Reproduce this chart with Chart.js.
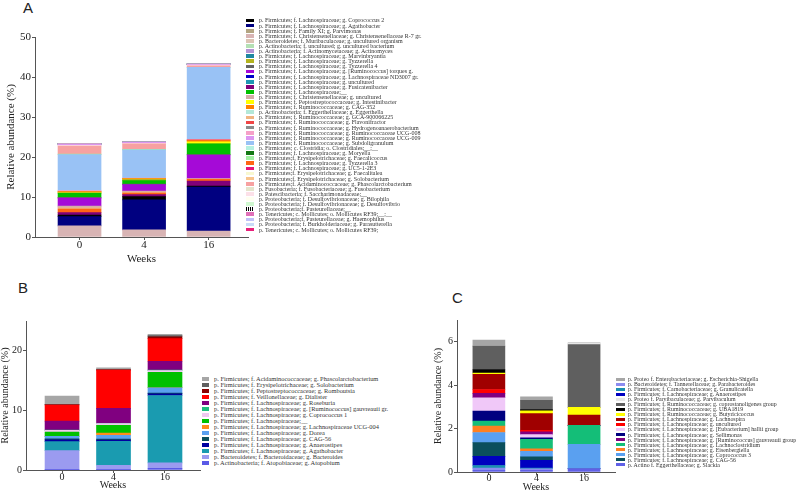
<!DOCTYPE html>
<html>
<head>
<meta charset="utf-8">
<script src="https://cdn.jsdelivr.net/npm/chart.js@4.4.1/dist/chart.umd.min.js"></script>
<style>
body { margin: 0; background: #fff; width: 800px; height: 491px; position: relative; overflow: hidden; }
canvas { position: absolute; }
.letter { position: absolute; font-family: "Liberation Sans", Arial, sans-serif; font-size: 15px; line-height: 15px; color: #222; }
.lg { position: absolute; left: 0; top: 0; }
.lg div { position: absolute; }
.lg span { position: absolute; white-space: nowrap; font-family: "Liberation Serif", serif; color: #333; }
</style>
</head>
<body>
<div class="letter" style="left:23px;top:0px">A</div>
<div class="letter" style="left:18px;top:280px">B</div>
<div class="letter" style="left:452px;top:290px">C</div>
<canvas id="chart-a" width="250" height="265" style="left:0;top:0"></canvas>
<canvas id="chart-b" width="202" height="200" style="left:0;top:290px"></canvas>
<canvas id="chart-c" width="197" height="202" style="left:420px;top:290px"></canvas>
<div class="lg" id="legend-a"></div>
<div class="lg" id="legend-b"></div>
<div class="lg" id="legend-c"></div>
<script>
var weeks = ['0', '4', '16'];

// panel A (legend order)
var taxaA = [
    'p. Firmicutes; f. Lachnospiraceae; g. Coprococcus 2',
    'p. Firmicutes; f. Lachnospiraceae; g. Agathobacter',
    'p. Firmicutes; f. Family XI; g. Parvimonas',
    'p. Firmicutes; f. Christensenellaceae; g. Christensenellaceae R-7 gr.',
    'p. Bacteroidetes; f. Muribaculaceae; g. uncultured organism',
    'p. Actinobacteria; f. uncultured; g. uncultured bacterium',
    'p. Actinobacteria; f. Actinomycetaceae; g. Actinomyces',
    'p. Firmicutes; f. Lachnospiraceae; g. Marvinbryantia',
    'p. Firmicutes; f. Lachnospiraceae; g. Tyzzerella',
    'p. Firmicutes; f. Lachnospiraceae; g. Tyzzerella 4',
    'p. Firmicutes; f. Lachnospiraceae; g. [Ruminococcus] torques g.',
    'p. Firmicutes; f. Lachnospiraceae; g. Lachnospiraceae ND3007 gr.',
    'p. Firmicutes; f. Lachnospiraceae; g. uncultured',
    'p. Firmicutes; f. Lachnospiraceae; g. Fusicatenibacter',
    'p. Firmicutes; f. Lachnospiraceae;__',
    'p. Firmicutes; f. Christensenellaceae; g. uncultured',
    'p. Firmicutes; f. Peptostreptococcaceae; g. Intestinibacter',
    'p. Firmicutes; f. Ruminococcaceae; g. CAG-352',
    'p. Actinobacteria; f. Eggerthellaceae; g. Eggerthella',
    'p. Firmicutes; f. Ruminococcaceae; g. GCA-900066225',
    'p. Firmicutes; f. Ruminococcaceae; g. Flavonifractor',
    'p. Firmicutes; f. Ruminococcaceae; g. Hydrogenoanaerobacterium',
    'p. Firmicutes; f. Ruminococcaceae; g. Ruminococcaceae UCG-008',
    'p. Firmicutes; f. Ruminococcaceae; g. Ruminococcaceae UCG-009',
    'p. Firmicutes; f. Ruminococcaceae; g. Subdoligranulum',
    'p. Firmicutes; c. Clostridia; o. Clostridiales;__;__',
    'p. Firmicutes; f. Lachnospiraceae; g. Moryella',
    'p. Firmicutes;f. Erysipelotrichaceae; g. Faecalicoccus',
    'p. Firmicutes; f. Lachnospiraceae; g. Tyzzerella 3',
    'p. Firmicutes; f. Lachnospiraceae; g. UC5-1-2E3',
    'p. Firmicutes;f. Erysipelotrichaceae; g. Faecalitalea',
    'p. Firmicutes;f. Erysipelotrichaceae; g. Solobacterium',
    'p. Firmicutes;f. Acidaminococcaceae; g. Phascolarctobacterium',
    'p. Fusobacteria; f. Fusobacteriaceae; g. Fusobacterium',
    'p. Patescibacteria; f. Saccharimonadaceae;__',
    'p. Proteobacteria; f. Desulfovibrionaceae; g. Bilophila',
    'p. Proteobacteria; f. Desulfovibrionaceae; g. Desulfovibrio',
    'p. Proteobacteria;f. Pasteurellaceae;__',
    'p. Tenericutes; c. Mollicutes; o. Mollicutes RF39;__;__',
    'p. Proteobacteria;f. Pasteurellaceae; g. Haemophilus',
    'p. Proteobacteria; f. Burkholderiaceae; g. Parasutterella',
    'p. Tenericutes; c. Mollicutes; o. Mollicutes RF39;'
];
var colorsA = [
    '#000000', '#000080', '#b3a582', '#d8b4b4', '#dcc4b4', '#b4e0b4', '#b494d4', '#1f87a0',
    '#b4b41e', '#646464', '#a50ad7', '#0000c8', '#1e96b4', '#800078', '#00c000', '#d4aca8',
    '#ffff00', '#ff8000', '#b4e8d8', '#f0b482', '#f04646', '#8c8c8c', '#f5a0c8', '#dc96f0',
    '#99c2f5', '#b4f0e0', '#147814', '#a0f0a0', '#ff6414', '#e6147a', '#f8f8d0', '#f8c48c',
    '#f7a1a1', '#e4e4cc', '#fce0e8', '#fffff0', '#d0f8d0', 'pattern', '#e070b8', '#c0c0f8',
    '#c8dcf8', '#e8207a'
];
var week0A = [0.4, 2.3, 0, 2.8, 0, 0, 0, 0, 0.2, 0.2, 2.0, 0, 0, 0.6, 1.0, 0.4, 0.1, 0.1, 0, 0.3, 0.1,
    0, 0.2, 0.4, 9.0, 0, 0, 0.1, 0.9, 0, 0, 0, 2.0, 0, 0.2, 0, 0, 0, 0, 0, 0, 0];
var week4A = [0.8, 7.5, 0, 1.8, 0, 0, 0, 0, 0.3, 0.1, 1.6, 0, 0, 0.5, 0.9, 0.3, 0.1, 0.1, 0, 0.2, 0,
    0, 0.1, 0.3, 7.1, 0, 0, 0.1, 0.4, 0, 0, 0, 1.4, 0, 0.1, 0, 0, 0, 0, 0, 0, 0];
var week16A = [0.2, 11.0, 0, 1.5, 0, 0, 0, 0, 0, 0.1, 5.9, 0, 0, 1.3, 2.7, 0.1, 0.5, 0.3, 0, 0.1, 0.2,
    0, 0.1, 0.2, 18.0, 0, 0, 0, 0.4, 0, 0, 0, 0.4, 0, 0.2, 0, 0, 0, 0, 0, 0, 0];
var stackA = [3, 1, 0, 13, 28, 19, 15, 10, 9, 14, 8, 16, 17, 20, 22, 24, 27, 32, 34, 23];

// panel B (legend order, stacked bottom-up in reverse)
var taxaB = [
    'p. Firmicutes; f. Acidaminococcaceae; g. Phascolarctobacterium',
    'p. Firmicutes; f. Erysipelotrichaceae; g. Solobacterium',
    'p. Firmicutes; f. Peptostreptococcaceae; g. Romboutsia',
    'p. Firmicutes; f. Veillonellaceae; g. Dialister',
    'p. Firmicutes; f. Lachnospiraceae; g. Roseburia',
    'p. Firmicutes; f. Lachnospiraceae; g. [Ruminococcus] gauvreauii gr.',
    'p. Firmicutes; f. Lachnospiraceae; g. Coprococcus 1',
    'p. Firmicutes; f. Lachnospiraceae;__',
    'p. Firmicutes; f. Lachnospiraceae; g. Lachnospiraceae UCG-004',
    'p. Firmicutes; f. Lachnospiraceae; g. Dorea',
    'p. Firmicutes; f. Lachnospiraceae; g. CAG-56',
    'p. Firmicutes; f. Lachnospiraceae; g. Anaerostipes',
    'p. Firmicutes; f. Lachnospiraceae; g. Agathobacter',
    'p. Bacteroidetes; f. Bacteroidaceae; g. Bacteroides',
    'p. Actinobacteria; f. Atopobiaceae; g. Atopobium'
];
var colorsB = ['#a6a6a6', '#606060', '#8b0000', '#ff0000', '#800080', '#1fbf7f', '#f0c8f0', '#00c000',
    '#ff8c1a', '#5aa0f0', '#0b4f5c', '#0000a0', '#1a9bb0', '#9b9bf0', '#5a5ae6'];
var week0B = [1.4, 0.05, 0.05, 2.7, 1.5, 0.05, 0.3, 0.7, 0, 0.4, 0.2, 0.3, 1.5, 3.2, 0.05];
var week4B = [0.3, 0.05, 0.05, 6.4, 2.5, 0.05, 0.3, 1.3, 0.4, 0.6, 0.2, 0.2, 4.0, 0.75, 0.05];
var week16B = [0.2, 0.2, 0.3, 3.8, 1.5, 0.05, 0.3, 2.6, 0, 0.9, 0.1, 0.3, 11.3, 0.9, 0.3];
var stackB = [14, 13, 12, 11, 10, 9, 8, 7, 6, 5, 4, 3, 2, 1, 0];

// panel C (legend order)
var taxaC = [
    'p. Proteo f. Enterobacteriaceae; g. Escherichia-Shigella',
    'p. Bacteroidetes; f. Tannerellaceae; g. Parabacteroides',
    'p. Firmicutes; f. Carnobacteriaceae; g. Granulicatella',
    'p. Firmicutes; f. Lachnospiraceae; g. Anaerostipes',
    'p. Proteo f. Parvibaculaceae; g. Parvibaculum',
    'p. Firmicutes; f. Ruminococcaceae; g. coprostanoligenes group',
    'p. Firmicutes; f. Ruminococcaceae; g. UBA1819',
    'p. Firmicutes; f. Ruminococcaceae; g. Butyricicoccus',
    'p. Firmicutes; f. Lachnospiraceae; g. Lachnospira',
    'p. Firmicutes; f. Lachnospiraceae; g. uncultured',
    'p. Firmicutes; f. Lachnospiraceae; g. [Eubacterium] hallii group',
    'p. Firmicutes; f. Lachnospiraceae; g. Sellimonas',
    'p. Firmicutes; f. Lachnospiraceae; g. [Ruminococcus] gauvreauii group',
    'p. Firmicutes; f. Lachnospiraceae; g. Lachnoclostridium',
    'p. Firmicutes; f. Lachnospiraceae; g. Eisenbergiella',
    'p. Firmicutes; f. Lachnospiraceae; g. Coprococcus 3',
    'p. Firmicutes; f. Lachnospiraceae; g. CAG-56',
    'p. Actino f. Eggerthellaceae; g. Slackia'
];
var colorsC = ['#a6a6a6', '#8c8cf0', '#1a90b0', '#0000c0', '#e6e6e6', '#5f5f5f', '#000000', '#ffff00',
    '#a00000', '#ff0000', '#f0c8f8', '#000080', '#800080', '#14be78', '#ff8020', '#5aa0f0', '#0b4f5c', '#6060e6'];
var week0C = [0.28, 0.1, 0.12, 0.42, 0, 1.08, 0.17, 0.05, 0.7, 0.18, 0.62, 0.45, 0.2, 0.23, 0.3, 0.47, 0.63, 0.08];
var week4C = [0.16, 0.07, 0.03, 0.36, 0, 0.42, 0.06, 0.13, 0.77, 0.07, 0.15, 0.07, 0.13, 0.43, 0.12, 0.25, 0.16, 0.08];
var week16C = [0.03, 0, 0, 0, 0.05, 2.89, 0, 0.36, 0.47, 0, 0, 0, 0, 0.87, 0, 1.13, 0, 0.15];
var stackC = [17, 1, 2, 3, 16, 15, 14, 13, 11, 10, 12, 9, 8, 7, 6, 5, 4, 0];

var axisColor = '#555';
var textColor = '#222';
var serif = 'Liberation Serif';

function fullOrder(order, n) {
    var out = order.slice();
    for (var i = 0; i < n; i++)
        if (out.indexOf(i) < 0) out.push(i);
    return out;
}

function makeDatasets(taxa, colors, w0, w4, w16, order) {
    return fullOrder(order, taxa.length).map(function (i) {
        return {
            label: taxa[i],
            data: [w0[i], w4[i], w16[i]].map(function (v, k) { return {x: k, y: v}; }),
            backgroundColor: colors[i] == 'pattern' ? '#888' : colors[i],
            borderWidth: 0
        };
    });
}

function makeOptions(o) {
    return {
        responsive: false,
        animation: false,
        layout: {padding: {top: o.top, right: o.right, left: 0, bottom: 0}},
        plugins: {legend: {display: false}, tooltip: {enabled: false}},
        datasets: {bar: {barThickness: o.bar}},
        scales: {
            x: {
                type: 'linear', stacked: true, min: o.xmin, max: o.xmax, offset: false,
                afterFit: function (s) { s.height = o.xh; },
                afterBuildTicks: function (s) { s.ticks = [{value: 0}, {value: 1}, {value: 2}]; },
                ticks: {
                    callback: function (v) { return weeks[v]; },
                    font: {family: serif, size: o.tick, lineHeight: 1}, color: textColor,
                    padding: o.xpad, maxRotation: 0, autoSkip: false
                },
                grid: {drawOnChartArea: false, offset: false, tickLength: 3, color: axisColor},
                border: {color: axisColor},
                title: {display: true, text: 'Weeks', color: textColor,
                    font: {family: serif, size: o.title, lineHeight: 1}, padding: {top: 0, bottom: 0}}
            },
            y: {
                stacked: true, min: 0, max: o.ymax,
                afterFit: function (s) { s.width = o.yw; },
                ticks: {stepSize: o.step, includeBounds: false, font: {family: serif, size: o.tick, lineHeight: 1},
                    color: textColor, padding: 1},
                grid: {drawOnChartArea: false, tickLength: 3, color: axisColor},
                border: {color: axisColor},
                title: {display: true, text: 'Relative abundance (%)', color: textColor,
                    font: {family: serif, size: o.title, lineHeight: 1}, padding: {top: o.ypad, bottom: 0}}
            }
        }
    };
}

function makeLegend(id, taxa, colors, o) {
    var el = document.getElementById(id);
    taxa.forEach(function (t, i) {
        var y = o.y0 + i * o.dy;
        var box = document.createElement('div');
        box.style.left = o.box + 'px';
        box.style.top = (y - o.bh / 2) + 'px';
        box.style.width = o.bw + 'px';
        box.style.height = o.bh + 'px';
        if (colors[i] == 'pattern')
            box.style.background = 'repeating-linear-gradient(90deg, #000 0 1px, #fff 1px 2px)';
        else
            box.style.background = colors[i];
        el.appendChild(box);
        var txt = document.createElement('span');
        txt.textContent = t;
        txt.style.left = o.text + 'px';
        txt.style.top = (y - o.dy) + 'px';
        txt.style.fontSize = o.font + 'px';
        txt.style.lineHeight = (2 * o.dy) + 'px';
        el.appendChild(txt);
    });
}

var chartA = new Chart(document.getElementById('chart-a').getContext('2d'), {
    type: 'bar',
    data: {datasets: makeDatasets(taxaA, colorsA, week0A, week4A, week16A, stackA)},
    options: makeOptions({top: 37, right: 2, yw: 35, xh: 28, xmin: -0.69, xmax: 2.61, bar: 43,
        ymax: 50, step: 10, tick: 11, xpad: 0, ypad: 6, title: 11})
});

var chartB = new Chart(document.getElementById('chart-b').getContext('2d'), {
    type: 'bar',
    data: {datasets: makeDatasets(taxaB, colorsB, week0B, week4B, week16B, stackB)},
    options: makeOptions({top: 31, right: 2, yw: 26, xh: 20, xmin: -0.70, xmax: 2.68, bar: 34,
        ymax: 25, step: 10, tick: 10, xpad: -1, ypad: 0, title: 10})
});

var chartC = new Chart(document.getElementById('chart-c').getContext('2d'), {
    type: 'bar',
    data: {datasets: makeDatasets(taxaC, colorsC, week0C, week4C, week16C, stackC)},
    options: makeOptions({top: 30, right: 2, yw: 37, xh: 20, xmin: -0.67, xmax: 2.65, bar: 32,
        ymax: 7, step: 2, tick: 10, xpad: -1.5, ypad: 13, title: 10})
});

makeLegend('legend-a', taxaA, colorsA, {y0: 20.5, dy: 5.1, box: 246, bw: 8, bh: 3.8, text: 259, font: 6.0});
makeLegend('legend-b', taxaB, colorsB, {y0: 378.7, dy: 6.05, box: 202, bw: 7, bh: 4, text: 214, font: 6.4});
makeLegend('legend-c', taxaC, colorsC, {y0: 379.3, dy: 5.02, box: 616, bw: 9, bh: 3.6, text: 628, font: 5.9});
</script>
</body>
</html>
